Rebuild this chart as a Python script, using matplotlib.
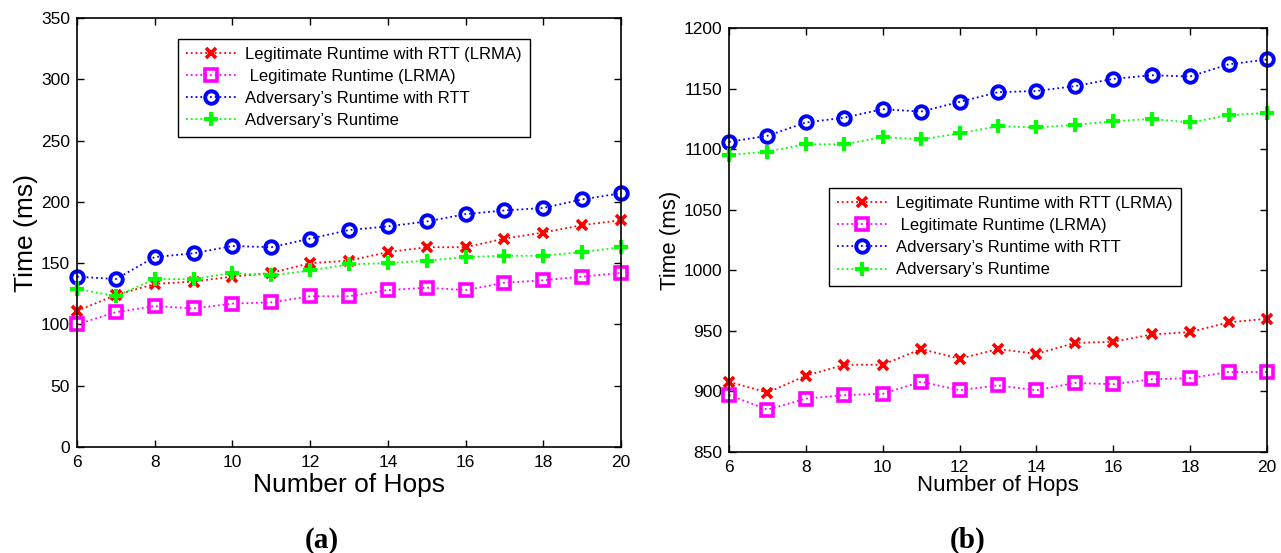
import matplotlib
matplotlib.use("Agg")
import matplotlib.pyplot as plt

plt.rcParams.update({
    "font.family": ["Liberation Sans", "DejaVu Sans"],
    "xtick.direction": "in",
    "ytick.direction": "in",
    "xtick.top": True,
    "ytick.right": True,
    "xtick.major.size": 5,
    "ytick.major.size": 5,
    "axes.linewidth": 1.2,
})

# ── Data ──────────────────────────────────────────────────────────────────────
hops = [6, 7, 8, 9, 10, 11, 12, 13, 14, 15, 16, 17, 18, 19, 20]

# (a)
a_legit_rtt = [111, 124, 133, 135, 139, 142, 150, 152, 159, 163, 163, 170, 175, 181, 185]
a_legit = [100, 110, 115, 113, 117, 118, 123, 123, 128, 130, 128, 134, 136, 139, 142]
a_adv_rtt = [139, 137, 155, 158, 164, 163, 170, 177, 180, 184, 190, 193, 195, 202, 207]
a_adv = [129, 123, 137, 137, 142, 140, 144, 149, 150, 152, 155, 156, 156, 159, 163]

# (b)
b_legit_rtt = [908, 899, 913, 922, 922, 935, 927, 935, 931, 940, 941, 947, 949, 957, 960]
b_legit = [897, 885, 894, 897, 898, 908, 901, 905, 901, 907, 906, 910, 911, 916, 916]
b_adv_rtt = [1106, 1111, 1122, 1126, 1133, 1131, 1139, 1147, 1148, 1152, 1158, 1161, 1160, 1170, 1174]
b_adv = [1095, 1098, 1104, 1104, 1110, 1108, 1113, 1119, 1118, 1120, 1123, 1125, 1122, 1128, 1130]

labels = [
    "Legitimate Runtime with RTT (LRMA)",
    " Legitimate Runtime (LRMA)",
    "Adversary\u2019s Runtime with RTT",
    "Adversary\u2019s Runtime",
]

STYLES = [
    dict(color="#ff0000", marker="x", ms=6.5, mew=2.6),
    dict(color="#ff00ff", marker="s", ms=8, mew=2.6, mfc="none"),
    dict(color="#0000ff", marker="o", ms=9, mew=2.8, mfc="none"),
    dict(color="#00ff00", marker="+", ms=9.5, mew=3.0),
]

W, H = 1281, 553
fig = plt.figure(figsize=(W / 100, H / 100), dpi=100)


def _ax(l, t, r, b):
    return fig.add_axes([l / W, 1 - b / H, (r - l) / W, (b - t) / H])


def _draw(ax, series, leg_box, tick_fs, label_fs, xpad):
    for ys, lab, st in zip(series, labels, STYLES):
        ax.plot(hops, ys, linestyle=":", lw=1.3, label=lab, clip_on=False, **st)
    ax.set_xlim(6, 20)
    ax.set_xticks(range(6, 21, 2))
    ax.tick_params(labelsize=tick_fs, width=1.0)
    ax.tick_params(axis="y", pad=5)
    ax.tick_params(axis="x", pad=6)
    ax.set_xlabel("Number of Hops", fontsize=label_fs, labelpad=xpad)
    ax.set_ylabel("Time (ms)", fontsize=label_fs, labelpad=2)
    l, t = leg_box
    leg = ax.legend(loc="upper left", bbox_to_anchor=(l / W, 1 - t / H),
                    bbox_transform=fig.transFigure, borderaxespad=0,
                    fontsize=12, handlelength=3.0, handletextpad=0.5,
                    labelspacing=0.42, borderpad=0.5, fancybox=False,
                    framealpha=1, edgecolor="black")
    leg.get_frame().set_linewidth(1.0)


ax1 = _ax(77, 18, 621, 447)
_draw(ax1, [a_legit_rtt, a_legit, a_adv_rtt, a_adv], (178, 39), 12.5, 19, 2)
ax1.set_ylim(0, 350)
ax1.set_yticks(range(0, 351, 50))

ax2 = _ax(729, 28, 1267, 452)
_draw(ax2, [b_legit_rtt, b_legit, b_adv_rtt, b_adv], (829, 188), 12.5, 16, 0)
ax2.set_ylim(850, 1200)
ax2.set_yticks(range(850, 1201, 50))

fig.text(322 / W, 1 - 540 / H, "(a)", fontsize=21, fontweight="bold",
         family="Liberation Serif", ha="center", va="center")
fig.text(968 / W, 1 - 540 / H, "(b)", fontsize=21, fontweight="bold",
         family="Liberation Serif", ha="center", va="center")

fig.savefig("out.png", dpi=100)
